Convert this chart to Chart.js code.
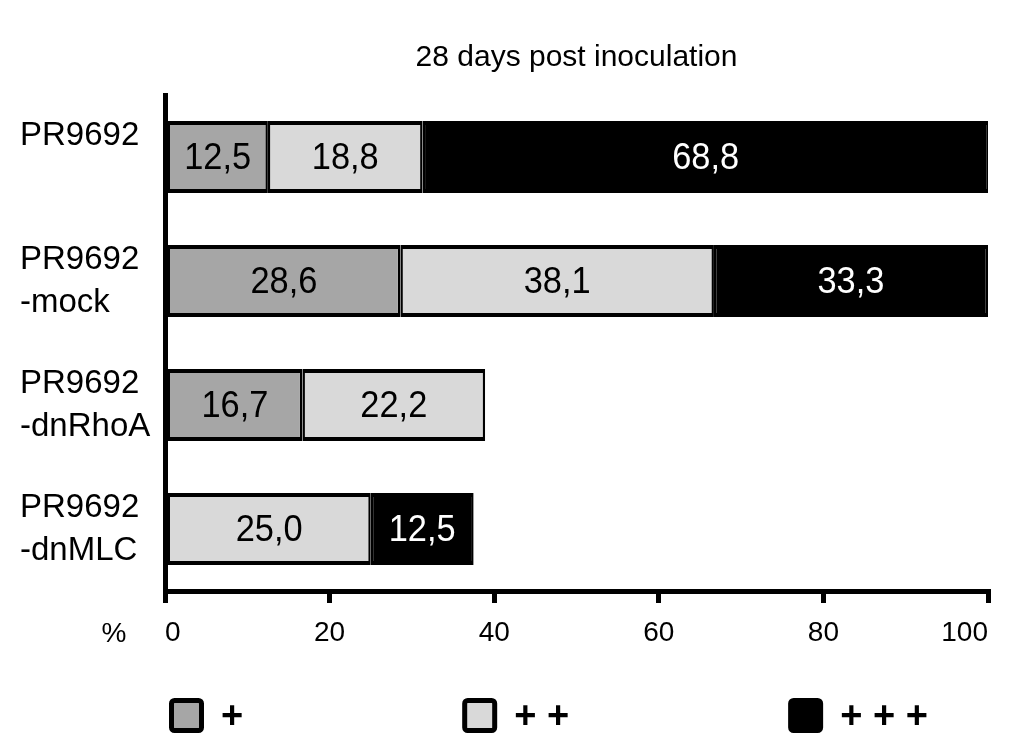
<!DOCTYPE html>
<html>
<head>
<meta charset="utf-8">
<script src="https://cdn.jsdelivr.net/npm/chart.js@4"></script>
<style>
  html, body { margin: 0; padding: 0; background: #fff; }
  #wrap { width: 1009px; height: 756px; }
</style>
</head>
<body>
<div id="wrap"><canvas id="chart"></canvas></div>
<script>
// ---- data ----
const groups = [['PR9692', ''], ['PR9692', '-mock'], ['PR9692', '-dnRhoA'], ['PR9692', '-dnMLC']];
const seriesNames = ['+', '+ +', '+ + +'];
const plusOne   = [12.5, 28.6, 16.7, null];
const plusTwo   = [18.8, 38.1, 22.2, 25.0];
const plusThree = [68.8, 33.3, null, 12.5];
const xTicks = [0, 20, 40, 60, 80, 100];
const titleText = '28 days post inoculation';

const FONT = "'Liberation Sans', Arial, sans-serif";
const colors = ['#a6a6a6', '#d9d9d9', '#000000'];
const labelColors = ['#000', '#000', '#fff'];

const fmt = v => v.toFixed(1).replace('.', ',');

// value labels inside segments, title, "%" and legend
const decorations = {
  id: 'decorations',
  afterDatasetsDraw(chart) {
    const ctx = chart.ctx;
    ctx.save();
    ctx.font = '37px ' + FONT;
    ctx.textAlign = 'center';
    ctx.textBaseline = 'middle';
    chart.data.datasets.forEach((ds, di) => {
      const meta = chart.getDatasetMeta(di);
      meta.data.forEach((bar, i) => {
        const v = ds.data[i];
        if (v == null) return;
        ctx.save();
        ctx.translate((bar.x + bar.base) / 2, bar.y + 2);
        ctx.scale(0.93, 1);   // the figure's digits are slightly condensed
        ctx.fillStyle = labelColors[di];
        ctx.fillText(fmt(v), 0, 0);
        ctx.restore();
      });
    });
    ctx.restore();
  },
  afterDraw(chart) {
    const ctx = chart.ctx;
    const area = chart.chartArea;
    ctx.save();
    ctx.fillStyle = '#000';
    ctx.textBaseline = 'middle';

    // title
    ctx.font = '30px ' + FONT;
    ctx.textAlign = 'center';
    ctx.fillText(titleText, (area.left + area.right) / 2, 58);

    // percent sign next to the tick labels
    ctx.font = '28px ' + FONT;
    ctx.fillText('%', 114, area.bottom + 43);

    // legend
    ctx.font = 'bold 38px ' + FONT;
    ctx.textAlign = 'left';
    let x = area.left + 4;
    const boxY = 698, box = 35, gap = 219;
    seriesNames.forEach((name, i) => {
      ctx.beginPath();
      ctx.roundRect(x + 2.5, boxY + 2.5, box - 5, box - 5, 3);
      ctx.fillStyle = colors[i];
      ctx.fill();
      ctx.lineWidth = 5;
      ctx.strokeStyle = '#000';
      ctx.stroke();
      ctx.fillStyle = '#000';
      const tx = x + box + 17;
      ctx.fillText(name, tx, boxY + 20);
      x = tx + ctx.measureText(name).width + gap;
    });
    ctx.restore();
  }
};

const segBorder = { top: 4, bottom: 4, left: 2.5, right: 2.5 };

new Chart(document.getElementById('chart'), {
  type: 'bar',
  data: {
    labels: groups,
    datasets: [plusOne, plusTwo, plusThree].map((d, i) => ({
      label: seriesNames[i],
      data: d,
      backgroundColor: colors[i],
      borderColor: '#000',
      borderWidth: segBorder,
      borderSkipped: false,
      barPercentage: 0.58,
      categoryPercentage: 1
    }))
  },
  options: {
    indexAxis: 'y',
    responsive: true,
    maintainAspectRatio: false,
    animation: false,
    layout: { padding: { left: 20, top: 95, right: 21, bottom: 105 } },
    plugins: {
      legend: { display: false },
      title: { display: false },
      tooltip: { enabled: false }
    },
    scales: {
      x: {
        stacked: true,
        min: 0,
        max: 100,
        afterBuildTicks: axis => { axis.ticks = xTicks.map(v => ({ value: v })); },
        afterFit: axis => { axis.height = 60; axis.paddingRight = 0; axis.paddingLeft = 0; },
        grid: { drawOnChartArea: false, drawTicks: true, tickLength: 12, lineWidth: 5, color: '#000' },
        border: { display: true, color: '#000', width: 5 },
        ticks: { color: '#000', padding: 13, maxRotation: 0, align: 'inner', font: { family: FONT, size: 28 } }
      },
      y: {
        stacked: true,
        afterFit: axis => { axis.width = 145; },
        grid: { display: false },
        border: { display: true, color: '#000', width: 5 },
        ticks: {
          color: '#000',
          crossAlign: 'far',
          font: { family: FONT, size: 33, lineHeight: 1.3 }
        }
      }
    }
  },
  plugins: [decorations]
});
</script>
</body>
</html>
